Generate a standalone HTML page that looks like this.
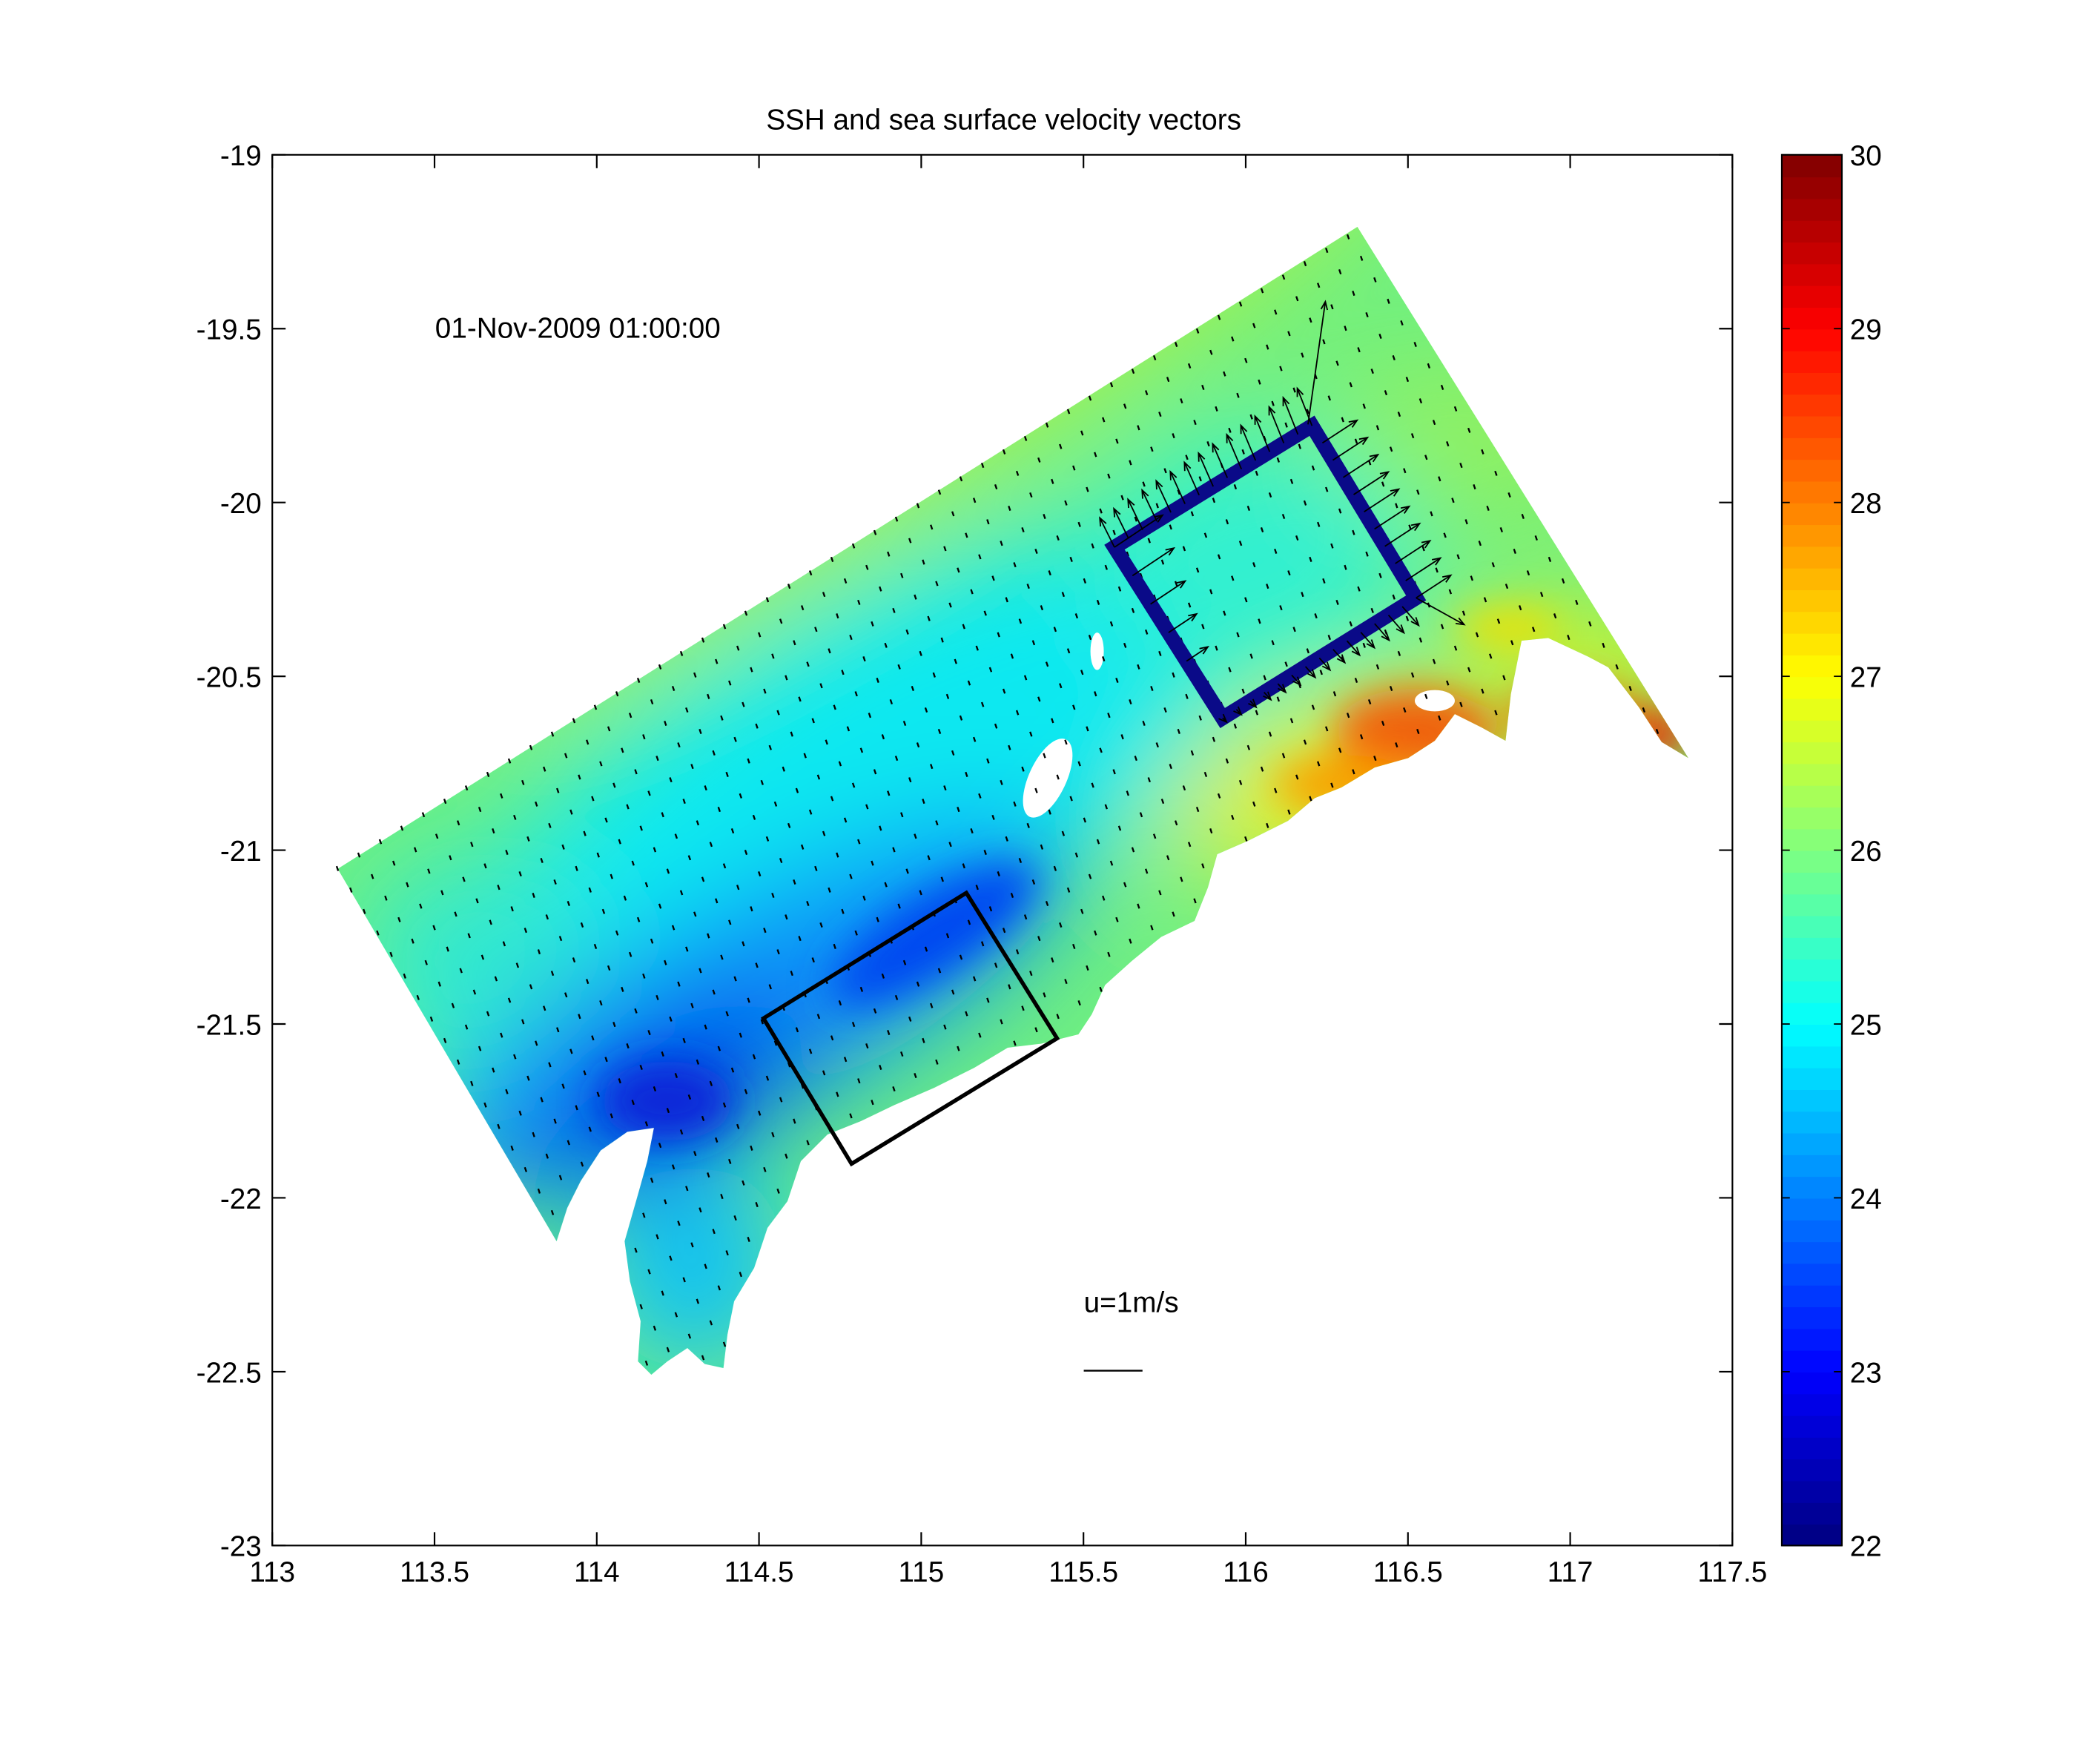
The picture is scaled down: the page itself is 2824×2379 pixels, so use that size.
<!DOCTYPE html>
<html><head><meta charset="utf-8"><style>html,body{margin:0;padding:0;background:#fff}svg{display:block}</style></head>
<body>
<svg id="s" xmlns="http://www.w3.org/2000/svg" width="2824" height="2379" viewBox="0 0 1568.9 1321.7" font-family="Liberation Sans, Arial, sans-serif">
<defs>
<clipPath id="dom"><polygon id="dp" points="253,651 1017,170 1265,568 1245,556 1228,530 1205,500 1190,492 1160,478 1140,480 1132,520 1128,555 1110,545 1090,535 1075,555 1055,568 1030,575 1005,590 985,598 965,615 935,630 912,640 905,665 895,690 870,702 848,720 828,738 818,760 808,775 780,782 755,785 730,800 700,815 670,828 645,840 620,850 600,870 590,900 575,920 565,950 550,975 545,1000 542,1025 528,1022 515,1010 500,1020 488,1030 478,1020 480,990 472,960 468,930 478,895 485,870 490,845 470,848 450,862 435,885 425,905 417,930"/></clipPath>
<filter id="bl" x="-50%" y="-50%" width="200%" height="200%"><feGaussianBlur stdDeviation="40"/></filter>
<filter id="bl2" x="-50%" y="-50%" width="200%" height="200%"><feGaussianBlur stdDeviation="15"/></filter>
</defs>
<text x="752" y="97" font-size="21.5" text-anchor="middle">SSH and sea surface velocity vectors</text>
<g clip-path="url(#dom)">
<rect x="200" y="150" width="1100" height="900" fill="#70f080"/>
<g filter="url(#bl)">
<ellipse cx="720" cy="300" rx="420" ry="55" fill="#a8f050" transform="rotate(-32 720 300)"/>
<ellipse cx="1100" cy="330" rx="120" ry="60" fill="#90f060"/>
<ellipse cx="620" cy="620" rx="360" ry="140" fill="#10e8f0" transform="rotate(-32 620 620)"/>
<ellipse cx="360" cy="720" rx="90" ry="80" fill="#30e8d0"/>
<ellipse cx="940" cy="420" rx="120" ry="90" fill="#30f0d0"/>
<ellipse cx="560" cy="760" rx="270" ry="80" fill="#1090f8" transform="rotate(-28 560 760)"/>
<ellipse cx="500" cy="820" rx="110" ry="50" fill="#0040e8" transform="rotate(-30 500 820)"/>
<ellipse cx="520" cy="950" rx="70" ry="80" fill="#10c0f8"/>
<ellipse cx="1000" cy="585" rx="130" ry="55" fill="#f0f020" transform="rotate(-20 1000 585)"/>
<ellipse cx="1190" cy="500" rx="90" ry="40" fill="#e0f020"/>
</g>
<g filter="url(#bl2)">
<ellipse cx="700" cy="700" rx="90" ry="30" fill="#0048f0" transform="rotate(-32 700 700)"/>
<ellipse cx="500" cy="825" rx="50" ry="30" fill="#0828d8"/>
<ellipse cx="1060" cy="548" rx="60" ry="32" fill="#f06010"/>
<ellipse cx="1010" cy="588" rx="55" ry="22" fill="#f8a000"/>
<ellipse cx="1180" cy="535" rx="50" ry="22" fill="#f07010"/>
<ellipse cx="1240" cy="550" rx="28" ry="18" fill="#f02000"/>
<ellipse cx="1130" cy="470" rx="40" ry="15" fill="#f0e000"/>
</g>
<ellipse cx="785" cy="583" rx="14" ry="32" fill="#fff" transform="rotate(25 785 583)"/>
<ellipse cx="822" cy="488" rx="5" ry="14" fill="#fff"/>
<ellipse cx="1075" cy="525" rx="15" ry="8" fill="#fff"/>
<ellipse cx="1145" cy="525" rx="10" ry="25" fill="#fff"/>
</g>
<g id="vec" stroke="#000" stroke-width="1.3" fill="none"></g>
<polygon points="572,763 724,669 792,778 638,872" fill="none" stroke="#000" stroke-width="3"/>
<polygon points="835,410 983,319 1061,448 916,538" fill="none" stroke="#0a0a88" stroke-width="11"/>
<g id="arr" stroke="#000" stroke-width="1" fill="none"></g>
<text x="326" y="253" font-size="21.5">01-Nov-2009 01:00:00</text>
<text x="812" y="983" font-size="21.5">u=1m/s</text>
<line x1="812" y1="1027" x2="856" y2="1027" stroke="#000" stroke-width="1.3"/>
<g id="ax" stroke="#000" stroke-width="1.2"></g>
<g id="cb"></g>
</svg>
<script>
var NS="http://www.w3.org/2000/svg";
function el(p,t,a,txt){var e=document.createElementNS(NS,t);for(var k in a)e.setAttribute(k,a[k]);if(txt!=null)e.textContent=txt;p.appendChild(e);return e;}
var s=document.getElementById('s'),ax=document.getElementById('ax');
var L=204,R=1298,T=116,B=1158;
el(ax,'rect',{x:L,y:T,width:R-L,height:B-T,fill:'none'});
for(var i=0;i<=9;i++){var x=L+i*(R-L)/9;el(ax,'line',{x1:x,y1:B,x2:x,y2:B-10});el(ax,'line',{x1:x,y1:T,x2:x,y2:T+10});
var v=113+i*0.5;el(s,'text',{x:x,y:B+27,'font-size':21.5,'text-anchor':'middle'},String(v));}
for(var i=0;i<=8;i++){var y=T+i*(B-T)/8;el(ax,'line',{x1:L,y1:y,x2:L+10,y2:y});el(ax,'line',{x1:R,y1:y,x2:R-10,y2:y});
var v=-19-i*0.5;el(s,'text',{x:L-8,y:y+8,'font-size':21.5,'text-anchor':'end'},String(v));}
function jet(t){function c(x){return Math.max(0,Math.min(1,x));}var r=c(1.5-Math.abs(4*t-3)),g=c(1.5-Math.abs(4*t-2)),b=c(1.5-Math.abs(4*t-1));return 'rgb('+Math.round(r*255)+','+Math.round(g*255)+','+Math.round(b*255)+')';}
var cb=document.getElementById('cb'),cx=1335,cw=45,h=(B-T)/64;
for(var i=0;i<64;i++){el(cb,'rect',{x:cx,y:B-(i+1)*h,width:cw,height:h+0.6,fill:jet((i+0.5)/64)});}
el(cb,'rect',{x:cx,y:T,width:cw,height:B-T,fill:'none',stroke:'#000','stroke-width':1.2});
for(var i=0;i<=8;i++){var y=B-i*(B-T)/8;el(cb,'line',{x1:cx,y1:y,x2:cx+6,y2:y,stroke:'#000'});el(cb,'line',{x1:cx+cw,y1:y,x2:cx+cw-6,y2:y,stroke:'#000'});
el(s,'text',{x:cx+cw+6,y:y+8,'font-size':21.5},String(22+i));}
var pts=document.getElementById('dp').getAttribute('points').trim().split(/\s+/).map(function(p){return p.split(',').map(Number);});
function inside(x,y){var c=false;for(var i=0,j=pts.length-1;i<pts.length;j=i++){var xi=pts[i][0],yi=pts[i][1],xj=pts[j][0],yj=pts[j][1];if(((yi>y)!=(yj>y))&&(x<(xj-xi)*(y-yi)/(yj-yi)+xi))c=!c;}return c;}
var vg=document.getElementById('vec');
var ux=[0.848,-0.53],uy=[0.53,0.848];var d='';
for(var a=-60;a<60;a++)for(var b=-60;b<60;b++){var x=253+a*ux[0]*19+b*uy[0]*19,y=651+a*ux[1]*19+b*uy[1]*19;
if(x<205||x>1297||y<117||y>1157)continue;if(!inside(x,y))continue;
d+='M'+(x-0.8).toFixed(1)+' '+(y-2).toFixed(1)+'L'+(x+0.4).toFixed(1)+' '+(y+1.5).toFixed(1);}
el(vg,'path',{d:d});
var ag=document.getElementById('arr');
function arrow(x1,y1,x2,y2){var dx=x2-x1,dy=y2-y1,l=Math.hypot(dx,dy),ux=dx/l,uy=dy/l,h=6;
el(ag,'path',{d:'M'+x1+' '+y1+'L'+x2+' '+y2+'M'+(x2-h*ux+h*0.4*uy)+' '+(y2-h*uy-h*0.4*ux)+'L'+x2+' '+y2+'L'+(x2-h*ux-h*0.4*uy)+' '+(y2-h*uy+h*0.4*ux)});}
function edge(p,q,n,f){for(var i=0;i<=n;i++){var t=i/n;f(p[0]+(q[0]-p[0])*t,p[1]+(q[1]-p[1])*t,t);}}
var A=[835,410],Bp=[983,319],C=[1061,448],D=[916,538];
edge(A,Bp,14,function(x,y,t){arrow(x,y,x-11,y-22-t*6);});
edge(Bp,C,10,function(x,y,t){if(t>0.02)arrow(x,y,x+26,y-17);});
edge(C,D,14,function(x,y,t){if(t>0.05)arrow(x,y,x+10*(1-t)+3,y+12*(1-t)+3);});
edge(A,D,6,function(x,y,t){if(t<0.7)arrow(x,y,x+30*(1-t)+6,y-20*(1-t)-4);});
arrow(980,318,993,226);arrow(1061,448,1097,468);
</script>
</body></html>
